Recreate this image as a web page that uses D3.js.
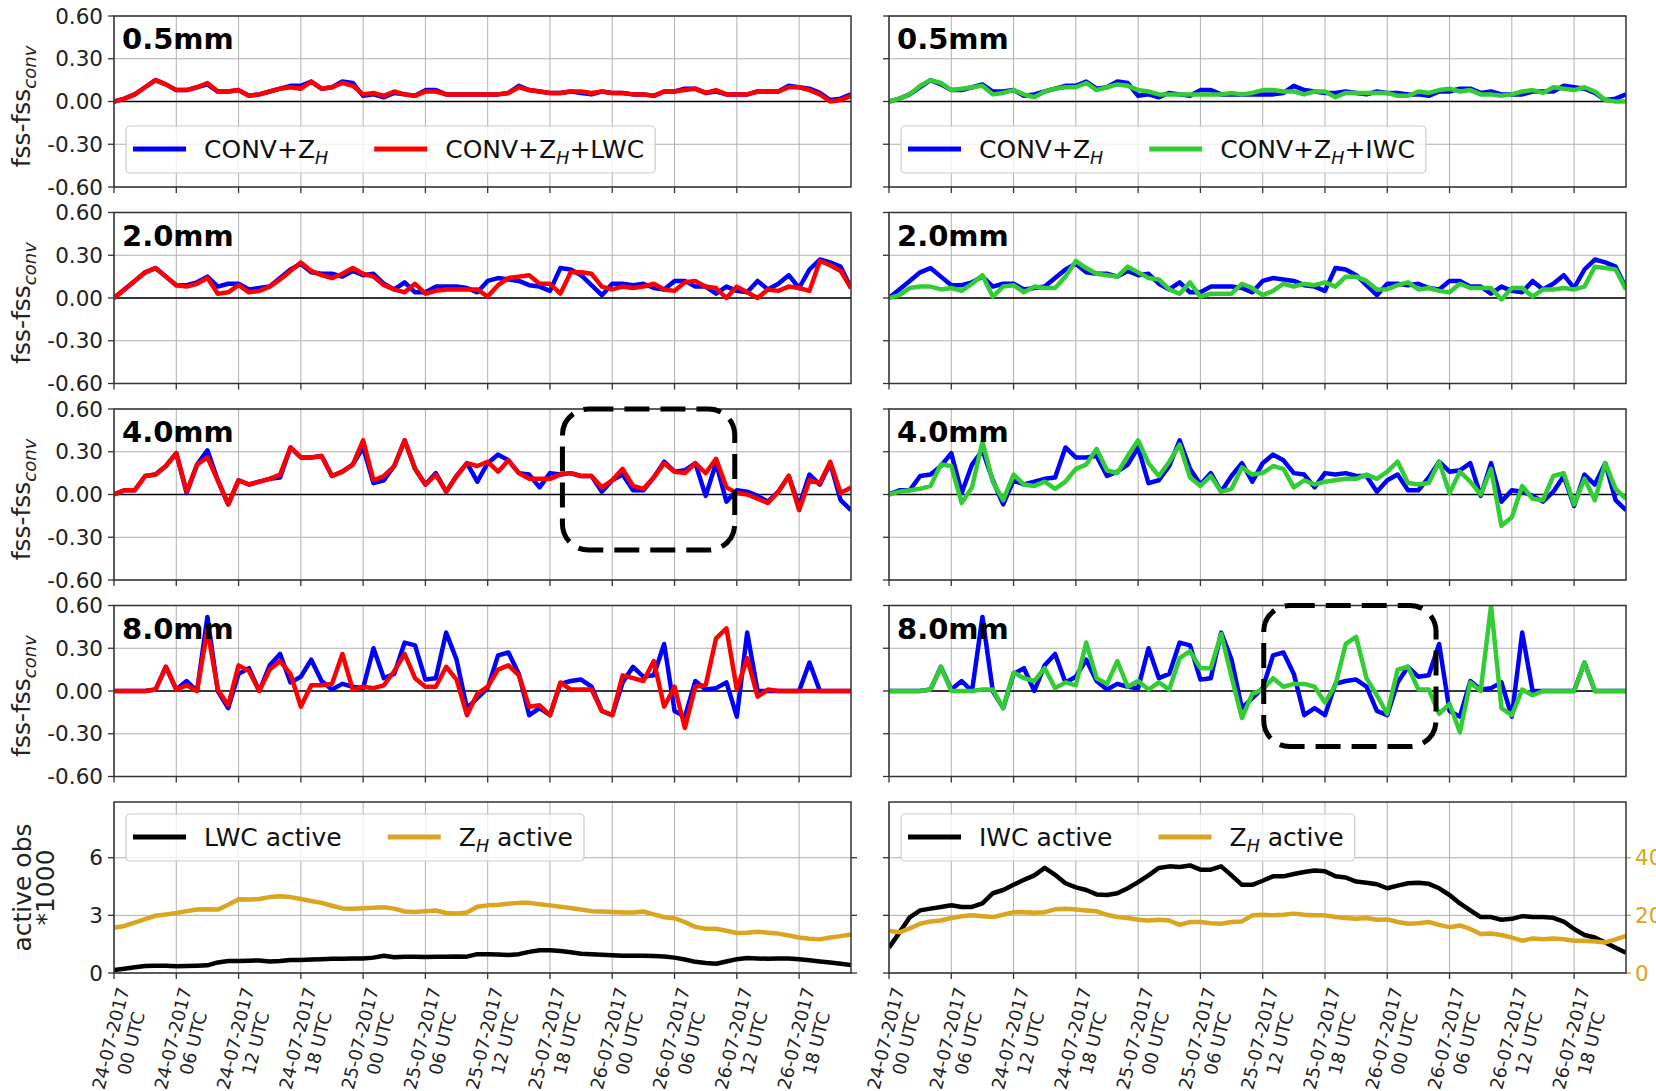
<!DOCTYPE html>
<html>
<head>
<meta charset="utf-8">
<script src="https://cdn.jsdelivr.net/npm/d3@7"></script>
<style>
body { margin: 0; background: #fff; }
svg text { font-family: "DejaVu Sans", sans-serif; }
</style>
</head>
<body>
<svg id="chart" width="1656" height="1091"></svg>
<script>
// hourly analysis times, 24-07-2017 00 UTC .. 26-07-2017 23 UTC
var hours = d3.range(72);
var tickHours = [0, 6, 12, 18, 24, 30, 36, 42, 48, 54, 60, 66];
var tickDates = ["24-07-2017", "24-07-2017", "24-07-2017", "24-07-2017",
                 "25-07-2017", "25-07-2017", "25-07-2017", "25-07-2017",
                 "26-07-2017", "26-07-2017", "26-07-2017", "26-07-2017"];
var tickTimes = ["00 UTC", "06 UTC", "12 UTC", "18 UTC",
                 "00 UTC", "06 UTC", "12 UTC", "18 UTC",
                 "00 UTC", "06 UTC", "12 UTC", "18 UTC"];
var thresholds = ["0.5mm", "2.0mm", "4.0mm", "8.0mm"];
var fssTicks = [-0.6, -0.3, 0, 0.3, 0.6];
var obsTicks = [0, 3, 6];
var zhTicksRight = [0, 20, 40];

// fss - fss_conv, CONV+Z_H
var convZh05 = [0,0.02,0.05,0.10,0.15,0.12,0.08,0.08,0.10,0.12, 0.07,0.07,0.08,0.04,0.05,0.07,0.09,0.11,0.11,0.14, 0.09,0.10,0.14,0.13,0.04,0.05,0.03,0.06,0.05,0.04, 0.08,0.08,0.05,0.05,0.05,0.05,0.05,0.05,0.06,0.11, 0.08,0.07,0.06,0.06,0.07,0.06,0.05,0.07,0.06,0.06, 0.05,0.05,0.04,0.07,0.07,0.09,0.09,0.06,0.07,0.05, 0.05,0.05,0.07,0.07,0.07,0.11,0.10,0.09,0.06,0.01, 0.02,0.05];
var convZh20 = [0,0.06,0.12,0.18,0.21,0.15,0.09,0.09,0.11,0.15, 0.08,0.10,0.10,0.06,0.07,0.08,0.14,0.20,0.24,0.18, 0.17,0.17,0.15,0.19,0.16,0.17,0.10,0.06,0.11,0.04, 0.04,0.08,0.08,0.08,0.07,0.04,0.12,0.14,0.13,0.12, 0.09,0.08,0.05,0.21,0.20,0.16,0.09,0.02,0.10,0.10, 0.09,0.10,0.07,0.06,0.12,0.12,0.08,0.08,0.03,0.08, 0.05,0.04,0.12,0.06,0.10,0.16,0.07,0.20,0.27,0.25, 0.22,0.07];
var convZh40 = [0,0.03,0.03,0.13,0.14,0.20,0.29,0.01,0.21,0.31, 0.10,-0.07,0.10,0.07,0.09,0.11,0.12,0.33,0.26,0.26, 0.27,0.13,0.16,0.21,0.33,0.08,0.10,0.20,0.38,0.18, 0.07,0.15,0.02,0.13,0.22,0.09,0.22,0.28,0.24,0.15, 0.14,0.05,0.15,0.14,0.15,0.13,0.13,0.02,0.10,0.14, 0.03,0.03,0.12,0.23,0.16,0.17,0.22,-0.01,0.22,-0.05, 0.03,0.02,-0.01,-0.05,0.02,0.13,-0.08,0.14,0.07,0.22, -0.04,-0.11];
var convZh80 = [0,0,0,0,0.01,0.17,0.01,0.07,0.00,0.52, 0.00,-0.12,0.12,0.16,0.00,0.18,0.26,0.06,0.10,0.22, 0.07,0.01,0.05,0.03,0.02,0.30,0.09,0.12,0.34,0.32, 0.08,0.09,0.41,0.22,-0.12,-0.05,0.02,0.25,0.27,0.12, -0.17,-0.12,-0.17,0.05,0.07,0.08,0.03,-0.14,-0.17,0.06, 0.17,0.10,0.11,0.33,-0.14,-0.18,0.07,0.01,0.02,0.06, -0.18,0.41,0.00,0.00,0,0,0,0.20,0,0, 0,0];

// fss - fss_conv, CONV+Z_H+LWC
var convZhLwc05 = [0,0.02,0.05,0.10,0.15,0.12,0.08,0.08,0.10,0.13, 0.07,0.07,0.08,0.04,0.05,0.07,0.09,0.10,0.09,0.14, 0.09,0.10,0.13,0.11,0.05,0.06,0.04,0.07,0.05,0.04, 0.07,0.07,0.05,0.05,0.05,0.05,0.05,0.05,0.06,0.10, 0.08,0.07,0.06,0.06,0.07,0.07,0.06,0.07,0.06,0.06, 0.05,0.05,0.04,0.07,0.07,0.08,0.09,0.06,0.08,0.05, 0.05,0.05,0.07,0.07,0.07,0.10,0.10,0.08,0.05,0.00, 0.01,0.04];
var convZhLwc20 = [0,0.06,0.12,0.18,0.21,0.15,0.09,0.08,0.10,0.14, 0.03,0.04,0.09,0.04,0.05,0.08,0.13,0.19,0.25,0.19, 0.16,0.14,0.17,0.21,0.17,0.15,0.09,0.06,0.04,0.10, 0.03,0.05,0.06,0.06,0.06,0.06,0.01,0.09,0.14,0.15, 0.16,0.10,0.10,0.03,0.18,0.18,0.17,0.08,0.06,0.08, 0.07,0.08,0.10,0.06,0.05,0.11,0.12,0.08,0.07,0.00, 0.08,0.04,0.00,0.06,0.05,0.08,0.07,0.05,0.26,0.23, 0.19,0.07];
var convZhLwc40 = [0,0.03,0.03,0.13,0.14,0.20,0.29,0.02,0.21,0.26, 0.10,-0.07,0.10,0.07,0.09,0.11,0.14,0.33,0.26,0.26, 0.27,0.13,0.16,0.21,0.38,0.10,0.13,0.20,0.38,0.18, 0.07,0.14,0.02,0.13,0.22,0.20,0.23,0.16,0.24,0.15, 0.11,0.11,0.11,0.14,0.15,0.13,0.13,0.05,0.10,0.18, 0.06,0.04,0.12,0.22,0.16,0.15,0.22,0.15,0.25,0.05, 0.01,0.00,-0.03,-0.06,0.02,0.13,-0.11,0.10,0.08,0.23, 0.01,0.05];
var convZhLwc80 = [0,0,0,0,0.01,0.17,0.01,0.04,0.00,0.43, 0.01,-0.10,0.18,0.14,0.00,0.15,0.21,0.12,-0.11,0.04, 0.04,0.05,0.26,0.01,0.03,0.02,0.04,0.14,0.26,0.09, 0.03,0.03,0.17,0.08,-0.17,-0.02,0.03,0.15,0.18,0.11, -0.11,-0.10,-0.17,0.06,0.01,0.01,0.01,-0.14,-0.17,0.11, 0.09,0.07,0.21,-0.11,0.03,-0.26,0.03,0.04,0.37,0.44, 0.01,0.23,-0.04,0.01,0,0,0,0,0,0, 0,0];

// fss - fss_conv, CONV+Z_H+IWC
var convZhIwc05 = [0,0.02,0.05,0.11,0.15,0.13,0.08,0.09,0.10,0.11, 0.05,0.06,0.08,0.05,0.03,0.07,0.09,0.10,0.10,0.13, 0.08,0.10,0.12,0.11,0.08,0.07,0.05,0.05,0.05,0.05, 0.05,0.05,0.05,0.06,0.05,0.06,0.08,0.08,0.07,0.07, 0.05,0.07,0.07,0.03,0.06,0.06,0.06,0.06,0.06,0.04, 0.04,0.07,0.06,0.08,0.09,0.07,0.08,0.05,0.05,0.04, 0.05,0.07,0.08,0.06,0.10,0.09,0.08,0.10,0.07,0.01, 0.00,0.00];
var convZhIwc20 = [0,0.02,0.07,0.08,0.08,0.06,0.07,0.05,0.10,0.16, 0.01,0.08,0.09,0.04,0.08,0.07,0.07,0.15,0.26,0.21, 0.17,0.16,0.15,0.22,0.18,0.14,0.13,0.06,0.03,0.11, 0.01,0.03,0.03,0.03,0.10,0.07,0.02,0.05,0.10,0.08, 0.10,0.09,0.11,0.08,0.15,0.15,0.12,0.06,0.06,0.09, 0.11,0.06,0.07,0.05,0.04,0.10,0.07,0.07,0.07,-0.01, 0.07,0.07,0.01,0.06,0.06,0.07,0.06,0.08,0.22,0.21, 0.20,0.06];
var convZhIwc40 = [0,0.02,0.03,0.04,0.06,0.21,0.20,-0.06,0.05,0.37, 0.09,-0.04,0.14,0.07,0.06,0.09,0.04,0.09,0.18,0.21, 0.32,0.17,0.15,0.27,0.38,0.22,0.13,0.23,0.35,0.12, 0.06,0.13,0.02,0.04,0.19,0.14,0.15,0.20,0.18,0.05, 0.10,0.07,0.09,0.10,0.11,0.11,0.14,0.11,0.16,0.23, 0.08,0.07,0.08,0.23,0.01,0.16,0.09,0.00,0.18,-0.22, -0.16,0.06,-0.03,-0.04,0.13,0.15,-0.07,0.11,-0.04,0.22, 0.04,-0.03];
var convZhIwc80 = [0,0,0,0,0.01,0.17,0.00,0.00,0.00,0.01, 0.01,-0.12,0.13,0.09,0.07,0.16,0.02,0.06,0.04,0.34, 0.09,0.05,0.21,0.03,0.07,0.01,0.06,0.01,0.23,0.28, 0.16,0.16,0.40,0.10,-0.19,-0.02,0.01,0.09,0.03,0.05, 0.05,0.03,-0.08,0.04,0.33,0.38,0.09,-0.03,-0.16,0.15, 0.17,0.01,0.01,-0.16,-0.09,-0.29,0.06,0.00,0.60,-0.12, -0.17,0.01,-0.03,0.00,0,0,0,0.20,0,0, 0,0];

// active observations (*1000)
var lwcActive = [0.15,0.22,0.30,0.36,0.38,0.38,0.35,0.36,0.38,0.40, 0.55,0.62,0.62,0.64,0.65,0.60,0.62,0.68,0.68,0.70, 0.72,0.74,0.74,0.75,0.76,0.80,0.90,0.82,0.85,0.84, 0.83,0.84,0.85,0.86,0.85,0.98,0.98,0.96,0.94,0.98, 1.10,1.18,1.18,1.15,1.08,1.00,0.97,0.95,0.92,0.90, 0.90,0.90,0.88,0.86,0.80,0.70,0.58,0.52,0.48,0.60, 0.72,0.78,0.76,0.74,0.76,0.75,0.72,0.66,0.60,0.55, 0.48,0.42];
var zhActiveLwc = [2.35,2.45,2.62,2.80,2.98,3.05,3.12,3.22,3.30,3.32, 3.30,3.55,3.84,3.83,3.85,3.95,4.00,3.95,3.85,3.75, 3.65,3.50,3.36,3.35,3.37,3.40,3.42,3.35,3.20,3.17, 3.22,3.25,3.12,3.10,3.15,3.45,3.52,3.55,3.60,3.65, 3.65,3.58,3.52,3.45,3.38,3.30,3.22,3.20,3.17,3.15, 3.15,3.20,3.05,2.90,2.85,2.65,2.40,2.30,2.30,2.20, 2.08,2.10,2.15,2.10,2.05,1.95,1.85,1.78,1.75,1.85, 1.92,2.00];
var iwcActive = [1.32,2.10,2.90,3.26,3.35,3.44,3.53,3.44,3.44,3.62, 4.15,4.32,4.59,4.85,5.08,5.47,5.11,4.67,4.46,4.32, 4.09,4.06,4.15,4.41,4.73,5.08,5.47,5.55,5.52,5.60, 5.38,5.38,5.55,5.08,4.59,4.59,4.80,5.03,5.03,5.15, 5.26,5.33,5.30,5.03,4.97,4.76,4.70,4.62,4.41,4.55, 4.67,4.70,4.64,4.41,4.06,3.62,3.26,2.91,2.91,2.77, 2.82,2.96,2.91,2.91,2.87,2.68,2.29,1.98,1.85,1.59, 1.32,1.06];
var zhActiveIwc = [14.7,14.1,15.5,17.1,17.9,18.2,19.1,19.7,20.0,19.7, 19.4,20.2,21.1,21.1,20.9,21.1,22.1,22.3,22.0,21.7, 21.4,20.2,19.4,19.1,18.5,18.2,18.5,18.2,16.7,17.7, 17.7,17.3,17.1,17.7,17.9,20.0,20.2,20.0,20.2,20.6, 20.2,20.0,20.0,19.4,19.1,18.8,19.1,18.5,18.6,17.7, 17.1,17.3,17.7,16.7,15.9,16.5,15.3,13.5,13.7,13.2, 12.3,11.2,12.0,11.7,12.0,11.7,11.2,11.2,10.9,10.6, 11.7,12.9];

// layout
var svg = d3.select("#chart");
var colX = [114, 889];
var rowY = [16, 212.5, 409, 605.5, 802];
var panelW = 737, panelH = 171;
var BLUE = "#0000ff", RED = "#ff0000", GREEN = "#32cd32", GOLD = "#daa520";
var LABEL_ANGLE = 76; // rotation of the date labels

var x = d3.scaleLinear().domain([0, 71]).range([0, panelW]);
var yFss = d3.scaleLinear().domain([-0.6, 0.6]).range([panelH, 0]);
var yObs = d3.scaleLinear().domain([0, 8.9]).range([panelH, 0]);
var yObsRight = d3.scaleLinear().domain([0, 8.9 * 20 / 3]).range([panelH, 0]);

var clipN = 0;

function makePanel(col, row) {
	var g = svg.append("g").attr("transform", "translate(" + colX[col] + "," + rowY[row] + ")");
	return g;
}

// grid, ticks, frame
function drawFrame(g, yScale, yTicks, yLabels, yFmt) {
	g.selectAll(".vgrid").data(tickHours).enter().append("line")
		.attr("x1", function(d) { return x(d); }).attr("x2", function(d) { return x(d); })
		.attr("y1", 0).attr("y2", panelH)
		.attr("stroke", "#b0b0b0").attr("stroke-width", 1);
	g.selectAll(".hgrid").data(yTicks).enter().append("line")
		.attr("x1", 0).attr("x2", panelW)
		.attr("y1", function(d) { return yScale(d); }).attr("y2", function(d) { return yScale(d); })
		.attr("stroke", "#b0b0b0").attr("stroke-width", 1);
	// x ticks (below)
	g.selectAll(".xtick").data(tickHours).enter().append("line")
		.attr("x1", function(d) { return x(d); }).attr("x2", function(d) { return x(d); })
		.attr("y1", panelH).attr("y2", panelH + 6)
		.attr("stroke", "#333").attr("stroke-width", 1.3);
	// y ticks (left)
	g.selectAll(".ytick").data(yTicks).enter().append("line")
		.attr("x1", -6).attr("x2", 0)
		.attr("y1", function(d) { return yScale(d); }).attr("y2", function(d) { return yScale(d); })
		.attr("stroke", "#333").attr("stroke-width", 1.3);
	if (yLabels) {
		g.selectAll(".ylab").data(yTicks).enter().append("text")
			.attr("x", -11).attr("y", function(d) { return yScale(d); })
			.attr("dy", "0.36em").attr("text-anchor", "end")
			.attr("font-size", 21.5).attr("fill", "#222")
			.text(yFmt);
	}
}

function drawBorder(g) {
	g.append("rect").attr("x", 0).attr("y", 0).attr("width", panelW).attr("height", panelH)
		.attr("fill", "none").attr("stroke", "#333").attr("stroke-width", 1.5);
}

function drawSeries(g, values, yScale, color, width) {
	var id = "clip" + (clipN++);
	g.append("clipPath").attr("id", id).append("rect")
		.attr("x", 0).attr("y", 0).attr("width", panelW).attr("height", panelH);
	var line = d3.line()
		.x(function(d, i) { return x(hours[i]); })
		.y(function(d) { return yScale(d); });
	g.append("path").datum(values)
		.attr("clip-path", "url(#" + id + ")")
		.attr("d", line)
		.attr("fill", "none").attr("stroke", color)
		.attr("stroke-width", width).attr("stroke-linejoin", "round");
}

// label with italic subscript, e.g. CONV+Z_H+LWC
function richText(sel, parts) {
	parts.forEach(function(p) {
		var t = sel.append("tspan").text(p.t);
		if (p.sub) t.attr("font-style", "italic").attr("font-size", "70%").attr("dy", p.dy);
		if (p.back) t.attr("dy", p.back);
	});
}

function drawLegend(g, items, boxY) {
	var lg = g.append("g");
	var box = lg.append("rect");
	var cursor = 19;
	var lineY = boxY + 23;
	var endX = 0;
	items.forEach(function(it, i) {
		lg.append("line").attr("x1", cursor).attr("x2", cursor + 53)
			.attr("y1", lineY).attr("y2", lineY)
			.attr("stroke", it.color).attr("stroke-width", 5);
		var t = lg.append("text").attr("x", cursor + 71).attr("y", lineY).attr("dy", "0.36em")
			.attr("font-size", 25).attr("fill", "#111");
		richText(t, it.parts);
		endX = cursor + 71 + t.node().getComputedTextLength();
		cursor = endX + 46;
	});
	box.attr("x", 12).attr("y", boxY).attr("width", endX + 11 - 12).attr("height", 47)
		.attr("rx", 4).attr("fill", "#fff").attr("fill-opacity", 0.8)
		.attr("stroke", "#cccccc").attr("stroke-width", 1.2);
}

function drawXLabels(g) {
	var lh = 21;
	tickHours.forEach(function(h, i) {
		var tg = g.append("g");
		var t = tg.append("text").attr("text-anchor", "middle").attr("font-size", 18).attr("fill", "#222");
		var l1 = t.append("tspan").attr("x", 0).attr("y", -lh / 2).attr("dy", "0.35em").text(tickDates[i]);
		t.append("tspan").attr("x", 0).attr("y", lh / 2).attr("dy", "0.35em").text(tickTimes[i]);
		var w = l1.node().getComputedTextLength();
		var a = LABEL_ANGLE * Math.PI / 180;
		var bh = w * Math.sin(a) + 2 * lh * Math.cos(a);
		tg.attr("transform", "translate(" + (x(h) + 7) + "," + (panelH + 12 + bh / 2) + ") rotate(" + (-LABEL_ANGLE) + ")");
	});
}

function fssLabel(row) {
	var t = svg.append("text")
		.attr("transform", "translate(30," + (rowY[row] + panelH / 2 + 5) + ") rotate(-90)")
		.attr("text-anchor", "middle").attr("font-size", 25).attr("fill", "#222");
	t.append("tspan").text("fss-fss");
	t.append("tspan").attr("font-style", "italic").attr("font-size", "72%").attr("dy", 6).text("conv");
}

var zhParts = [{t: "CONV+Z"}, {t: "H", sub: true, dy: 6}];
var legendSets = [
	[{color: BLUE, parts: zhParts}, {color: RED, parts: [{t: "CONV+Z"}, {t: "H", sub: true, dy: 6}, {t: "+LWC", back: -6}]}],
	[{color: BLUE, parts: zhParts}, {color: GREEN, parts: [{t: "CONV+Z"}, {t: "H", sub: true, dy: 6}, {t: "+IWC", back: -6}]}]
];
var fssSets = [
	{conv: convZh05, lwc: convZhLwc05, iwc: convZhIwc05},
	{conv: convZh20, lwc: convZhLwc20, iwc: convZhIwc20},
	{conv: convZh40, lwc: convZhLwc40, iwc: convZhIwc40},
	{conv: convZh80, lwc: convZhLwc80, iwc: convZhIwc80}
];
// dashed focus boxes: [col, row, hour from, hour to, fss bottom, fss top]
var focusBoxes = [[0, 2, 43.2, 59.8, -0.39, 0.6], [1, 3, 36.1, 52.7, -0.39, 0.6]];

var fmt2 = d3.format(".2f");
for (var r = 0; r < 4; r++) {
	fssLabel(r);
	for (var c = 0; c < 2; c++) {
		var g = makePanel(c, r);
		drawFrame(g, yFss, fssTicks, c == 0, function(d) { return fmt2(d).replace("−", "-"); });
		g.append("line").attr("x1", 0).attr("x2", panelW)
			.attr("y1", yFss(0)).attr("y2", yFss(0))
			.attr("stroke", "#000").attr("stroke-width", 1.5);
		drawSeries(g, fssSets[r].conv, yFss, BLUE, 4.5);
		drawSeries(g, c == 0 ? fssSets[r].lwc : fssSets[r].iwc, yFss, c == 0 ? RED : GREEN, 4.5);
		drawBorder(g);
		g.append("text").attr("x", 8).attr("y", 33)
			.attr("font-size", 29).attr("font-weight", "bold").attr("fill", "#000")
			.text(thresholds[r]);
		if (r == 0) drawLegend(g, legendSets[c], 110);
		focusBoxes.forEach(function(b) {
			if (b[0] != c || b[1] != r) return;
			g.append("rect")
				.attr("x", x(b[2])).attr("y", yFss(b[5]))
				.attr("width", x(b[3]) - x(b[2])).attr("height", yFss(b[4]) - yFss(b[5]))
				.attr("rx", 26).attr("fill", "none").attr("stroke", "#000")
				.attr("stroke-width", 5).attr("stroke-dasharray", "25,11");
		});
	}
}

// bottom row: active observations
var gl = makePanel(0, 4);
drawFrame(gl, yObs, obsTicks, true, function(d) { return d; });
gl.selectAll(".rtick").data(obsTicks).enter().append("line")
	.attr("x1", panelW).attr("x2", panelW + 6)
	.attr("y1", function(d) { return yObs(d); }).attr("y2", function(d) { return yObs(d); })
	.attr("stroke", "#333").attr("stroke-width", 1.3);
drawSeries(gl, zhActiveLwc, yObs, GOLD, 4.5);
drawSeries(gl, lwcActive, yObs, "#000", 4.5);
drawBorder(gl);
drawLegend(gl, [{color: "#000", parts: [{t: "LWC active"}]},
	{color: GOLD, parts: [{t: "Z"}, {t: "H", sub: true, dy: 6}, {t: " active", back: -6}]}], 12);
drawXLabels(gl);

var gr = makePanel(1, 4);
drawFrame(gr, yObs, obsTicks, false, null);
gr.selectAll(".rtick").data(zhTicksRight).enter().append("line")
	.attr("x1", panelW).attr("x2", panelW + 5)
	.attr("y1", function(d) { return yObsRight(d); }).attr("y2", function(d) { return yObsRight(d); })
	.attr("stroke", GOLD).attr("stroke-width", 1.3);
gr.selectAll(".rlab").data(zhTicksRight).enter().append("text")
	.attr("x", panelW + 9).attr("y", function(d) { return yObsRight(d); })
	.attr("dy", "0.36em").attr("font-size", 21.5).attr("fill", GOLD)
	.text(function(d) { return d; });
drawSeries(gr, iwcActive, yObs, "#000", 4.5);
drawSeries(gr, zhActiveIwc, yObsRight, GOLD, 4.5);
drawBorder(gr);
drawLegend(gr, [{color: "#000", parts: [{t: "IWC active"}]},
	{color: GOLD, parts: [{t: "Z"}, {t: "H", sub: true, dy: 6}, {t: " active", back: -6}]}], 12);
drawXLabels(gr);

// y label of the bottom row
var obsMid = rowY[4] + panelH / 2;
svg.append("text").attr("transform", "translate(31," + obsMid + ") rotate(-90)")
	.attr("text-anchor", "middle").attr("font-size", 25).attr("fill", "#222").text("active obs");
svg.append("text").attr("transform", "translate(54," + obsMid + ") rotate(-90)")
	.attr("text-anchor", "middle").attr("font-size", 25).attr("fill", "#222").text("*1000");
</script>
</body>
</html>
